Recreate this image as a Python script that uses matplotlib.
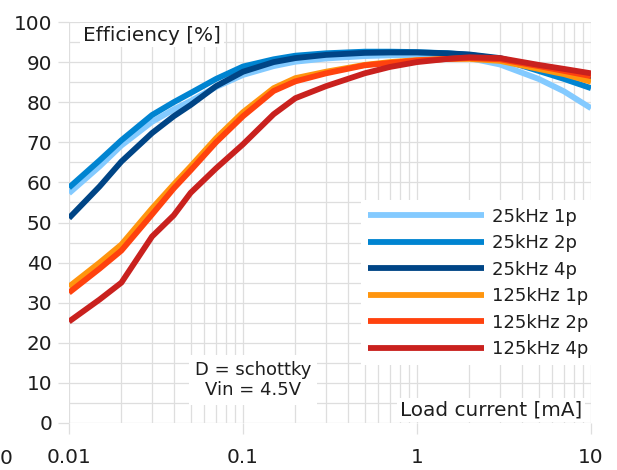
import matplotlib
matplotlib.use("Agg")
import matplotlib.pyplot as plt
from matplotlib.ticker import FixedLocator, NullFormatter, LogLocator

plt.rcParams['font.family'] = ['DejaVu Sans']

x_ma = [0.01, 0.015, 0.02, 0.03, 0.04, 0.05, 0.07, 0.1, 0.15, 0.2, 0.3, 0.5, 0.7, 1, 1.5, 2, 3, 5, 7, 10]

eff_25k_1p = [57.3, 64.0, 69.2, 75.1, 78.2, 80.3, 83.8, 86.8, 89.0, 90.1, 90.9, 91.5, 91.7, 91.8, 91.5, 91.0, 89.4, 85.8, 82.7, 78.5]
eff_25k_2p = [58.7, 65.5, 70.5, 76.8, 80.0, 82.3, 85.8, 88.9, 90.7, 91.6, 92.2, 92.6, 92.6, 92.5, 92.2, 91.8, 90.8, 87.8, 85.8, 83.5]
eff_25k_4p = [51.1, 59.0, 65.2, 72.3, 76.5, 79.3, 84.0, 87.6, 90.0, 91.0, 91.8, 92.3, 92.4, 92.4, 92.2, 91.9, 91.0, 88.6, 87.3, 85.7]
eff_125k_1p = [34.0, 40.0, 44.5, 53.5, 59.5, 64.0, 71.0, 77.5, 83.5, 86.0, 87.6, 89.3, 90.0, 90.5, 90.8, 90.8, 90.3, 88.3, 87.0, 85.1]
eff_125k_2p = [32.5, 38.5, 43.0, 52.0, 58.5, 63.0, 70.0, 76.5, 82.8, 85.2, 87.2, 89.2, 89.8, 90.4, 90.8, 91.0, 90.7, 89.0, 87.8, 86.5]
eff_125k_4p = [25.3, 30.8, 35.0, 46.5, 51.8, 57.4, 63.5, 69.5, 77.0, 81.0, 84.0, 87.2, 88.8, 90.0, 90.8, 91.2, 91.0, 89.3, 88.3, 87.2]

series_labels = ["25kHz 1p", "25kHz 2p", "25kHz 4p", "125kHz 1p", "125kHz 2p", "125kHz 4p"]
series_values = [eff_25k_1p, eff_25k_2p, eff_25k_4p, eff_125k_1p, eff_125k_2p, eff_125k_4p]
series_colors = ["#83caff", "#0084d1", "#004586", "#ff950e", "#ff420e", "#c9211e"]

y_ticks = list(range(0, 101, 10))
x_ticks = [0.01, 0.1, 1, 10]
x_tick_labels = ["0.01", "0.1", "1", "10"]

W, H = 617, 470
fig = plt.figure(figsize=(W / 100, H / 100), dpi=100)
L, R, B, T = 69, 591, 423, 22
ax = fig.add_axes([L / W, 1 - B / H, (R - L) / W, (B - T) / H])

grid_c = "#dedede"
text_c = "#1e1e1e"

for lab, vals, col in zip(series_labels, series_values, series_colors):
    ax.plot(x_ma, vals, color=col, lw=4.2, label=lab, solid_capstyle='butt',
            solid_joinstyle='round', zorder=3)

ax.set_xscale('log')
ax.set_xlim(0.01, 10)
ax.set_ylim(0, 100)
ax.xaxis.set_major_locator(FixedLocator(x_ticks))
ax.set_xticklabels(x_tick_labels)
ax.xaxis.set_minor_locator(LogLocator(base=10, subs=range(2, 10)))
ax.xaxis.set_minor_formatter(NullFormatter())
ax.yaxis.set_major_locator(FixedLocator(y_ticks))
ax.yaxis.set_minor_locator(FixedLocator(list(range(5, 100, 10))))

ax.grid(True, which='both', color=grid_c, lw=0.9, zorder=0)
ax.set_axisbelow(True)
for s in ax.spines.values():
    s.set_visible(False)

ax.tick_params(axis='both', which='major', direction='out', length=8, width=0.9,
               color=grid_c, labelsize=14.4, labelcolor=text_c)
ax.tick_params(axis='both', which='minor', length=0)
ax.tick_params(axis='x', which='major', pad=10)
ax.tick_params(axis='y', which='major', pad=4)

leg = ax.legend(loc='upper left', bbox_to_anchor=(0.559, 0.555), borderaxespad=0,
                frameon=True, fancybox=False, framealpha=1, facecolor='white',
                edgecolor='none', fontsize=13, handlelength=6.4, handletextpad=0.45,
                labelspacing=0.47, borderpad=0.4)
for t in leg.get_texts():
    t.set_color(text_c)
leg.set_zorder(5)

bb = dict(facecolor='white', edgecolor='none', pad=2)
ax.text((83 - L) / (R - L), (B - 35) / (B - T), "Efficiency [%]", transform=ax.transAxes,
        ha='left', va='center', fontsize=14.4, color=text_c, bbox=bb, zorder=6)
ax.text((582 - L) / (R - L), (B - 410) / (B - T), "Load current [mA]", transform=ax.transAxes,
        ha='right', va='center', fontsize=14.4, color=text_c, bbox=bb, zorder=6)
ax.text((253 - L) / (R - L), (B - 380) / (B - T), "D = schottky\nVin = 4.5V", transform=ax.transAxes,
        ha='center', va='center', multialignment='center', fontsize=13, linespacing=1.2,
        color=text_c, bbox=dict(facecolor='white', edgecolor='none', pad=4), zorder=6)

fig.text(6 / W, 1 - 458 / H, "0", ha='center', va='center', fontsize=14.4, color=text_c)

fig.savefig("out.png", dpi=100, facecolor='white')
